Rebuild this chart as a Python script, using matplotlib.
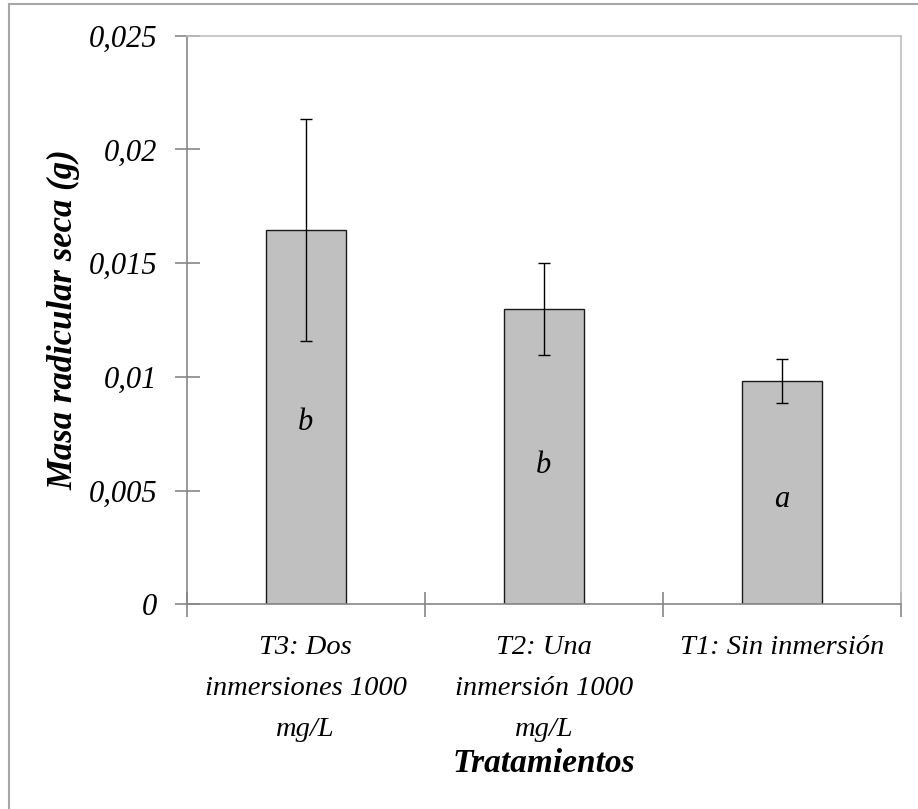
import matplotlib
matplotlib.use("Agg")
import matplotlib.pyplot as plt
from matplotlib.patches import Rectangle
from matplotlib.ticker import FixedLocator

categories = ["T3: Dos\ninmersiones 1000\nmg/L",
              "T2: Una\ninmersión 1000\nmg/L",
              "T1: Sin inmersión"]
values = [0.01645, 0.01300, 0.00983]
errors = [0.00488, 0.00202, 0.00096]
letters = ["b", "b", "a"]
letter_y = [0.0080, 0.0061, 0.0046]
yticks = [0, 0.005, 0.01, 0.015, 0.02, 0.025]
ytick_labels = ["0", "0,005", "0,01", "0,015", "0,02", "0,025"]

plt.rcParams['font.family'] = ['Liberation Serif', 'DejaVu Serif']

fig = plt.figure(figsize=(9.18, 8.09), dpi=100)
W, H = 918, 809
ax = fig.add_axes([186.7 / W, 1 - 604.3 / H, (901 - 186.7) / W, (604.3 - 35.7) / H])

# outer chart border (only top/left visible in reference)
fig.patches.append(Rectangle((9 / W, -0.1), 1.2, 1 - 4 / H + 0.1, transform=fig.transFigure,
                             fill=False, edgecolor="#A6A6A6", linewidth=1.5, zorder=0))

x = list(range(len(categories)))
ax.bar(x, values, width=0.335, color="#C0C0C0", edgecolor="#1a1a1a", linewidth=1.0, zorder=2)
ax.errorbar(x, values, yerr=errors, fmt="none", ecolor="black", elinewidth=1.0,
            capsize=4.3, capthick=1.0, zorder=3)
for xi, yi, t in zip(x, letter_y, letters):
    ax.text(xi, yi, t, ha="center", va="center", fontsize=22, style="italic", zorder=4)

ax.set_xlim(-0.5, 2.5)
ax.set_ylim(0, 0.025)
ax.set_yticks(yticks)
ax.set_yticklabels(ytick_labels, fontsize=22, style="italic")
ax.xaxis.set_major_locator(FixedLocator([-0.5, 0.5, 1.5, 2.5]))
ax.set_xticklabels([])
ax.xaxis.set_minor_locator(FixedLocator(x))
ax.set_xticklabels(categories, minor=True, fontsize=20.5, style="italic", linespacing=1.85)
ax.tick_params(axis="x", which="minor", length=0, pad=22)
ax.tick_params(axis="both", which="major", direction="inout", length=18, width=1.2,
               color="#868686")
ax.tick_params(axis="y", pad=12)

for s in ["left", "bottom"]:
    ax.spines[s].set_color("#868686")
    ax.spines[s].set_linewidth(1.2)
for s in ["top", "right"]:
    ax.spines[s].set_color("#BFBFBF")
    ax.spines[s].set_linewidth(1.2)

ax.set_ylabel("Masa radicular seca (g)", fontsize=25, style="italic", fontweight="bold", labelpad=6)
ax.set_xlabel("Tratamientos", fontsize=24, style="italic", fontweight="bold", labelpad=4)

fig.savefig("out.png", dpi=100)
